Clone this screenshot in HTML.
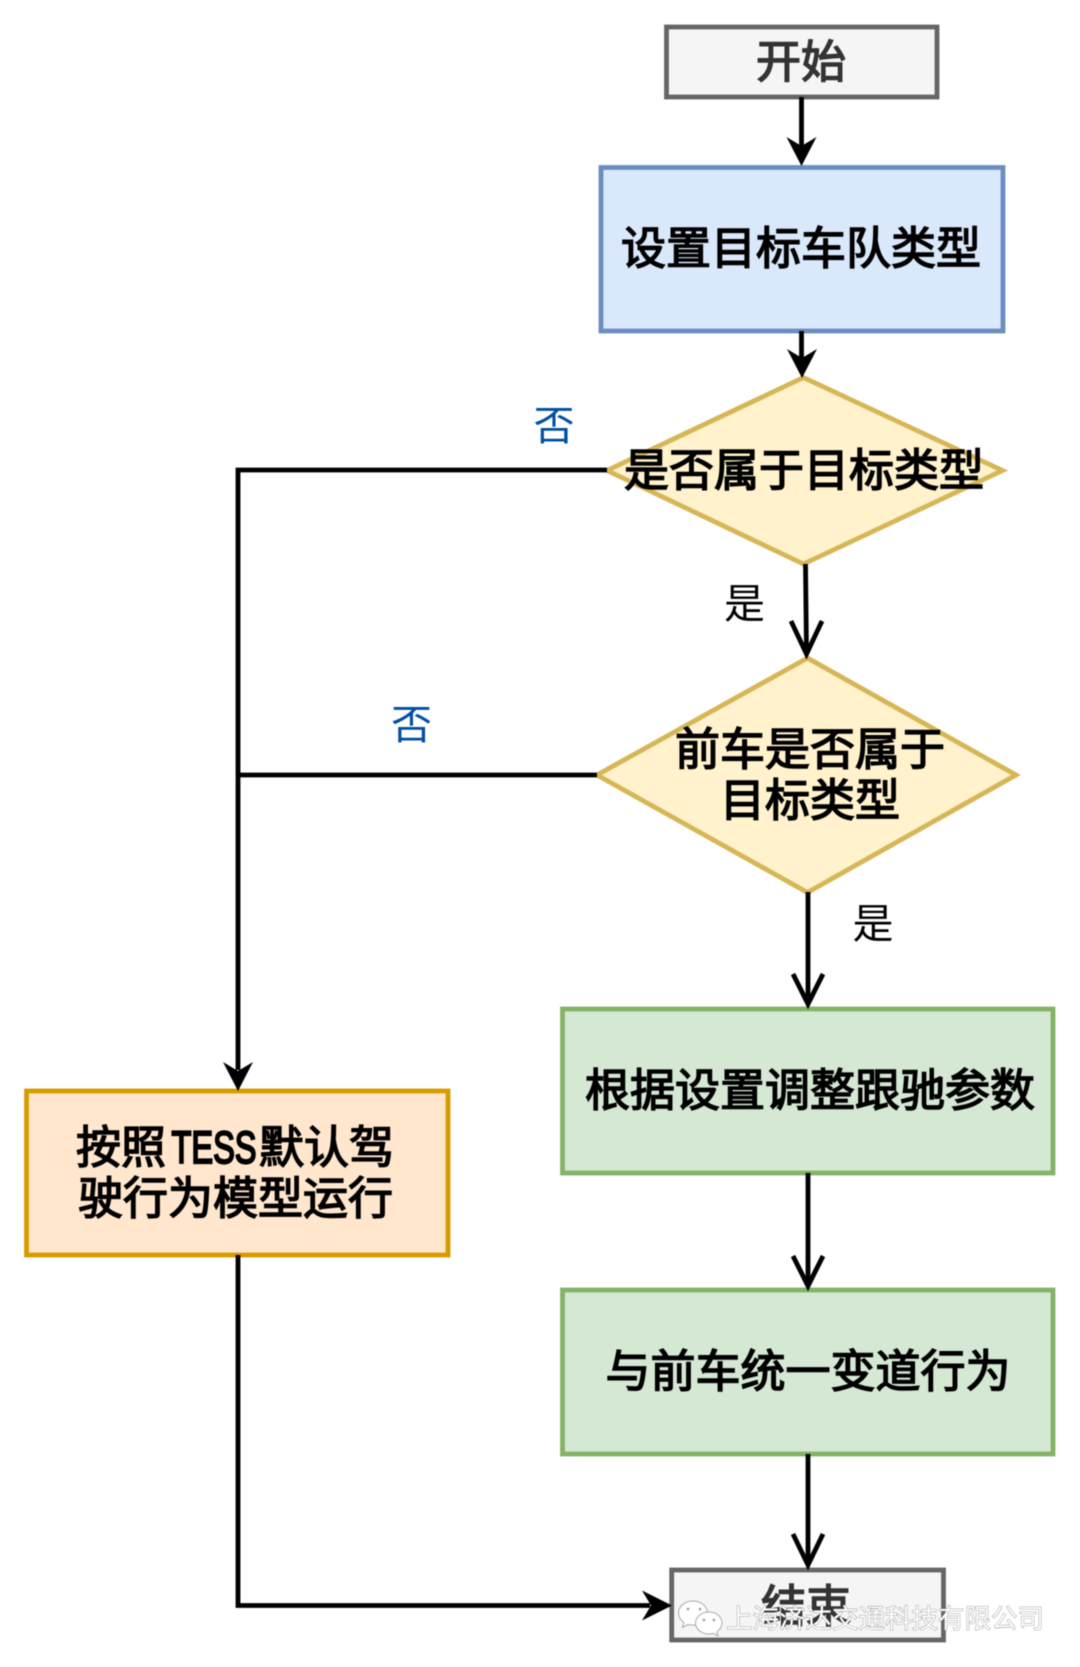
<!DOCTYPE html>
<html><head><meta charset="utf-8"><style>
html,body{margin:0;padding:0;background:#fff}
svg{display:block;filter:blur(.45px)}
text{font-family:"Liberation Sans","Noto Sans CJK SC",sans-serif;text-anchor:middle;dominant-baseline:central}
.b{font-size:45px;font-weight:400;fill:#000;stroke:#000;stroke-width:1.5px}
.l{font-size:41px;fill:#000}
.n{font-size:41px;fill:#0050a0}
.w{font-size:26.5px;fill:#fff;stroke:#888;stroke-width:.8px;paint-order:stroke}
</style></head><body>
<svg width="1080" height="1667" viewBox="0 0 1080 1667" xmlns="http://www.w3.org/2000/svg">
<g stroke-width="4.8">
<rect x="666.5" y="27" width="270.500" height="70" fill="#f5f5f5" stroke="#666"/>
<rect x="601" y="167.5" width="402" height="163.500" fill="#dae8fc" stroke="#6c8ebf"/>
<polygon points="803.5,377.500 1002.500,470.500 803.500,564 607,470.500" fill="#fff2cc" stroke="#d6b656"/>
<polygon points="807.5,658 1016,775 807.500,892.500 597,775" fill="#fff2cc" stroke="#d6b656"/>
<rect x="562.5" y="1009" width="490.500" height="164" fill="#d5e8d4" stroke="#82b366"/>
<rect x="562.5" y="1290" width="490.500" height="164" fill="#d5e8d4" stroke="#82b366"/>
<rect x="26.5" y="1091" width="421.500" height="164" fill="#ffe6cc" stroke="#d79b00"/>
<rect x="671.7" y="1570" width="271.800" height="70" fill="#f5f5f5" stroke="#666"/>
</g>
<g fill="none" stroke="#000" stroke-width="4.8">
<path d="M801.5 97V150"/>
<path d="M801.5 331V362"/>
<path d="M805.5 564L806.5 653"/>
<path d="M808 892V1002"/>
<path d="M808 1173V1283"/>
<path d="M808 1454V1565"/>
<path d="M607 470H238V1070"/>
<path d="M597 775H238"/>
<path d="M238 1255V1605.500H650"/>
<path d="M791 621L806.500 654L822 621"/>
<path d="M793 974L808 1004L823 974"/>
<path d="M793 1256L808 1286L823 1256"/>
<path d="M793 1534L808 1565L823 1534"/>
</g>
<g fill="#000">
<path d="M801.5 166L786.500 137L801.500 146L816.500 137Z"/>
<path d="M802 378L787 349L802 358L817 349Z"/>
<path d="M238 1091L223 1062L238 1071L253 1062Z"/>
<path d="M672 1605.500L642 1590.500L651 1605.500L642 1620.500Z"/>
</g>
<text class="b" x="801" y="62" style="fill:#333;stroke:#333">开始</text>
<text class="b" x="801" y="248.500">设置目标车队类型</text>
<text class="b" x="804" y="470.500">是否属于目标类型</text>
<text class="b" x="810" y="749.500">前车是否属于</text>
<text class="b" x="810" y="800.500">目标类型</text>
<text class="b" x="121" y="1147.500">按照</text>
<text class="b" x="214" y="1147.500" textLength="85" lengthAdjust="spacingAndGlyphs" style="stroke-width:2.2px">TESS</text>
<text class="b" x="326.5" y="1147.500">默认驾</text>
<text class="b" x="235.5" y="1198.500">驶行为模型运行</text>
<text class="b" x="810" y="1090.500">根据设置调整跟驰参数</text>
<text class="b" x="808" y="1371.500">与前车统一变道行为</text>
<text class="b" x="806" y="1606.500" style="fill:#333;stroke:#333">结束</text>
<text class="n" x="554" y="426">否</text>
<text class="n" x="411.5" y="725">否</text>
<text class="l" x="744.5" y="604">是</text>
<text class="l" x="873" y="924">是</text>
<g fill="#fff" stroke="#aaa" stroke-width="1">
<path d="M693 1601c-8.500 0-14.500 5.500-14.500 12 0 4 2 7 5.500 9.500l-1.500 5 5.500-3c2 .5 3.500 .7 5 .7 8 0 14.500-5.500 14.500-12.200s-6.500-12-14.500-12z"/>
<path d="M709 1612c-7.500 0-13.500 5-13.500 11s6 11 13.500 11c1.500 0 3-.2 4.500-.6l4.500 2.600-1-4.500c3-2 5-5 5-8.500 0-6-5.500-11-13-11z"/>
</g>
<g fill="#999"><circle cx="688" cy="1609" r="1.300"/><circle cx="700" cy="1609" r="1.300"/><circle cx="704" cy="1620" r="1.300"/><circle cx="714" cy="1620" r="1.300"/></g>
<text class="w" x="885" y="1619">上海济达交通科技有限公司</text>
</svg>
</body></html>
